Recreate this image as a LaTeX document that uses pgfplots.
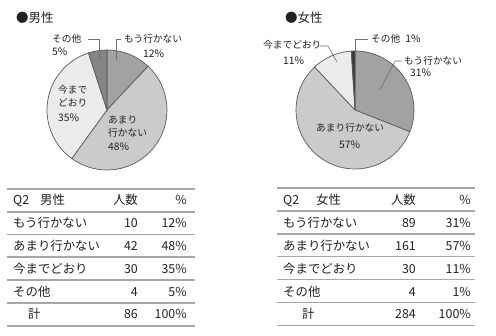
\documentclass[border=0pt]{standalone}
\usepackage{pgfplots}
\pgfplotsset{compat=1.18}
\usepackage{pgfplotstable}
\usepackage{fontspec}
\setmainfont{Noto Sans CJK JP}
\definecolor{cA}{HTML}{A2A2A2}
\definecolor{cB}{HTML}{CBCBCB}
\definecolor{cC}{HTML}{EBEBEB}
\definecolor{cDm}{HTML}{858585}
\definecolor{cDf}{HTML}{3A3A3A}
\definecolor{edgec}{HTML}{5A5A5A}
\definecolor{leadc}{HTML}{707070}
\definecolor{rulec}{HTML}{A8A8A8}
\definecolor{txt}{HTML}{222222}

\pgfplotstableread{
n pct
10 12
42 48
30 35
4 5
}\maletab
\pgfplotstableread{
n pct
89 31
161 57
30 11
4 1
}\femaletab

\newcommand\getel[4]{\pgfplotstablegetelem{#2}{#3}\of#1\global\let#4\pgfplotsretval}
\newcommand\slice[6]{%
  \filldraw[fill=#6, draw=edgec, line width=0.7pt] (axis cs:#1,#2) -- ++(#4:#3pt)
     arc[start angle=#4, end angle=#5, radius=#3pt] -- cycle;}
\newcommand\pl{\fontsize{9.7}{11}\selectfont}
\newcommand\pn{\fontsize{10.3}{11}\selectfont}
\newcommand\tb{\fontsize{12.4}{14}\selectfont}

\getel\maletab{0}{n}\mnA \getel\maletab{1}{n}\mnB \getel\maletab{2}{n}\mnC \getel\maletab{3}{n}\mnD
\getel\maletab{0}{pct}\mpA \getel\maletab{1}{pct}\mpB \getel\maletab{2}{pct}\mpC \getel\maletab{3}{pct}\mpD
\getel\femaletab{0}{n}\fnA \getel\femaletab{1}{n}\fnB \getel\femaletab{2}{n}\fnC \getel\femaletab{3}{n}\fnD
\getel\femaletab{0}{pct}\fpA \getel\femaletab{1}{pct}\fpB \getel\femaletab{2}{pct}\fpC \getel\femaletab{3}{pct}\fpD
\pgfmathtruncatemacro\mnT{\mnA+\mnB+\mnC+\mnD}
\pgfmathtruncatemacro\fnT{\fnA+\fnB+\fnC+\fnD}
\pgfmathsetmacro\mpT{\mpA+\mpB+\mpC+\mpD}
\pgfmathsetmacro\fpT{\fpA+\fpB+\fpC+\fpD}
\pgfmathsetmacro\mk{360/\mpT}
\pgfmathsetmacro\fk{360/\fpT}
\pgfmathsetmacro\maA{90-\mk*\mpA}
\pgfmathsetmacro\maB{\maA-\mk*\mpB}
\pgfmathsetmacro\maC{\maB-\mk*\mpC}
\pgfmathsetmacro\faA{90-\fk*\fpA}
\pgfmathsetmacro\faB{\faA-\fk*\fpB}
\pgfmathsetmacro\faC{\faB-\fk*\fpC}

\begin{document}%
\begin{tikzpicture}[every node/.style={inner sep=0pt, text=txt}]
\begin{axis}[at={(0,0)},anchor=south west,width=496pt,height=336pt,scale only axis,
  xmin=0,xmax=496,ymin=0,ymax=336,y dir=reverse,hide axis,clip=false,
  xtick=\empty,ytick=\empty]
\fill[white] (axis cs:0,0) rectangle (axis cs:496,336);
% ---------- male pie
\slice{107}{110}{60}{90}{\maA}{cA}
\slice{107}{110}{60}{\maA}{\maB}{cB}
\slice{107}{110}{60}{\maB}{\maC}{cC}
\slice{107}{110}{60}{\maC}{-270}{cDm}
% ---------- female pie
\slice{355}{110}{59}{90}{\faA}{cA}
\slice{355}{110}{59}{\faA}{\faB}{cB}
\slice{355}{110}{59}{\faB}{\faC}{cC}
\slice{355}{110}{59}{\faC}{-270}{cDf}
% ---------- titles
\node[anchor=west,font=\fontsize{12.5}{14}\selectfont] at (axis cs:16,18) {●男性};
\node[anchor=west,font=\fontsize{12.5}{14}\selectfont] at (axis cs:285,18) {●女性};
% ---------- male labels
\draw[leadc,line width=0.6pt] (axis cs:88,39) -- (axis cs:99,39) -- (axis cs:99,60);
\draw[leadc,line width=0.6pt] (axis cs:121,39) -- (axis cs:116,39) -- (axis cs:116,60);
\node[anchor=west,font=\pl] at (axis cs:52,39) {その他};
\node[anchor=west,font=\pn] at (axis cs:52,52) {\mpD\%};
\node[anchor=west,font=\pl] at (axis cs:124,39) {もう行かない};
\node[anchor=west,font=\pn] at (axis cs:143,54) {\mpA\%};
\node[anchor=west,font=\pl] at (axis cs:58,90) {今まで};
\node[anchor=west,font=\pl] at (axis cs:58,103) {どおり};
\node[anchor=west,font=\pn] at (axis cs:58,118) {\mpC\%};
\node[anchor=west,font=\pl] at (axis cs:108,120) {あまり};
\node[anchor=west,font=\pl] at (axis cs:108,133) {行かない};
\node[anchor=west,font=\pn] at (axis cs:108,147) {\mpB\%};
% ---------- female labels
\draw[leadc,line width=0.6pt] (axis cs:368,39) -- (axis cs:355,39) -- (axis cs:355,53);
\draw[leadc,line width=0.6pt] (axis cs:402,61) -- (axis cs:395,61) -- (axis cs:380,90);
\draw[leadc,line width=0.6pt] (axis cs:320,46) -- (axis cs:328,46) -- (axis cs:337,62);
\node[anchor=west,font=\pl] at (axis cs:371,39) {その他\hspace{5pt}{\pn\fpD\%}};
\node[anchor=west,font=\pl] at (axis cs:404,61) {もう行かない};
\node[anchor=west,font=\pn] at (axis cs:410,73) {\fpA\%};
\node[anchor=west,font=\pl] at (axis cs:263,45) {今までどおり};
\node[anchor=west,font=\pn] at (axis cs:283,61) {\fpC\%};
\node[anchor=west,font=\pl] at (axis cs:316,128) {あまり行かない};
\node[anchor=west,font=\pn] at (axis cs:339,145) {\fpB\%};
% ---------- male table
\pgfplotsinvokeforeach{189,212,234.5,257,280,303,326}{
  \draw[rulec,line width=1.1pt] (axis cs:7,#1) -- (axis cs:195,#1);}
\begin{scope}[every node/.append style={font=\tb, text height=0.8em, text depth=0.2em}]
\node[anchor=west] at (axis cs:13,201.5) {Q2};
\node[anchor=west] at (axis cs:40,201.5) {男性};
\node[anchor=east] at (axis cs:138,201.5) {人数};
\node[anchor=east] at (axis cs:187,201.5) {\%};
\node[anchor=west] at (axis cs:13,224.5) {もう行かない};
\node[anchor=east] at (axis cs:138,224.5) {\mnA};
\node[anchor=east] at (axis cs:187,224.5) {\mpA\%};
\node[anchor=west] at (axis cs:13,247.5) {あまり行かない};
\node[anchor=east] at (axis cs:138,247.5) {\mnB};
\node[anchor=east] at (axis cs:187,247.5) {\mpB\%};
\node[anchor=west] at (axis cs:13,270.5) {今までどおり};
\node[anchor=east] at (axis cs:138,270.5) {\mnC};
\node[anchor=east] at (axis cs:187,270.5) {\mpC\%};
\node[anchor=west] at (axis cs:13,293.5) {その他};
\node[anchor=east] at (axis cs:138,293.5) {\mnD};
\node[anchor=east] at (axis cs:187,293.5) {\mpD\%};
\node[anchor=west] at (axis cs:28,316) {計};
\node[anchor=east] at (axis cs:138,316) {\mnT};
\node[anchor=east] at (axis cs:187,316) {100\%};
\end{scope}
% ---------- female table
\pgfplotsinvokeforeach{188,211,234,256.5,279.5,302.5,325.5}{
  \draw[rulec,line width=1.1pt] (axis cs:277,#1) -- (axis cs:475,#1);}
\begin{scope}[every node/.append style={font=\tb, text height=0.8em, text depth=0.2em}]
\node[anchor=west] at (axis cs:283,201.5) {Q2};
\node[anchor=west] at (axis cs:316,201.5) {女性};
\node[anchor=east] at (axis cs:416,201.5) {人数};
\node[anchor=east] at (axis cs:471,201.5) {\%};
\node[anchor=west] at (axis cs:283,224.5) {もう行かない};
\node[anchor=east] at (axis cs:416,224.5) {\fnA};
\node[anchor=east] at (axis cs:471,224.5) {\fpA\%};
\node[anchor=west] at (axis cs:283,247.5) {あまり行かない};
\node[anchor=east] at (axis cs:416,247.5) {\fnB};
\node[anchor=east] at (axis cs:471,247.5) {\fpB\%};
\node[anchor=west] at (axis cs:283,270.5) {今までどおり};
\node[anchor=east] at (axis cs:416,270.5) {\fnC};
\node[anchor=east] at (axis cs:471,270.5) {\fpC\%};
\node[anchor=west] at (axis cs:283,293.5) {その他};
\node[anchor=east] at (axis cs:416,293.5) {\fnD};
\node[anchor=east] at (axis cs:471,293.5) {\fpD\%};
\node[anchor=west] at (axis cs:302,316) {計};
\node[anchor=east] at (axis cs:416,316) {\fnT};
\node[anchor=east] at (axis cs:471,316) {100\%};
\end{scope}
\end{axis}
\pgfresetboundingbox
\path (0,0) rectangle (496pt,336pt);
\end{tikzpicture}%
\end{document}
